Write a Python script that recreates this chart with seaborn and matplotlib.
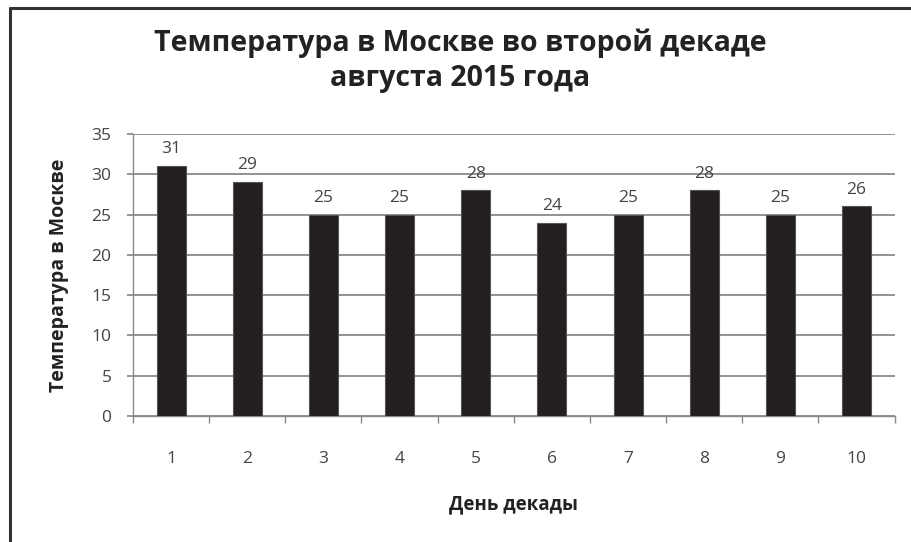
import matplotlib
matplotlib.use("Agg")
import matplotlib.pyplot as plt
import seaborn as sns
import pandas as pd
from matplotlib.lines import Line2D
from matplotlib.ticker import FixedLocator

days = ["1", "2", "3", "4", "5", "6", "7", "8", "9", "10"]
temps = [31, 29, 25, 25, 28, 24, 25, 28, 25, 26]
yticks = [0, 5, 10, 15, 20, 25, 30, 35]

title = "Температура в Москве во второй декаде\nавгуста 2015 года"
xlabel = "День декады"
ylabel = "Температура в Москве"

sns.set_theme(style="white")
plt.rcParams['font.family'] = ['Open Sans', 'DejaVu Sans']

df = pd.DataFrame({"day": days, "temp": temps})

fig = plt.figure(figsize=(9.11, 5.42), dpi=100)
ax = fig.add_axes([0.146, 0.2325, 0.836, 0.5203])

sns.barplot(data=df, x="day", y="temp", color="#231f20", width=0.38,
            ax=ax, saturation=1, edgecolor="#555555", linewidth=0.8, zorder=3)

ax.set_ylim(0, 35)
ax.set_xlim(-0.5, len(days) - 0.5)
ax.set_yticks(yticks)
ax.yaxis.grid(True, color="#8a8a8a", linewidth=1.3, zorder=0)
ax.xaxis.grid(False)

for s in ["top", "right"]:
    ax.spines[s].set_visible(False)
ax.spines["left"].set_color("#8a8a8a")
ax.spines["bottom"].set_color("#8a8a8a")
ax.spines["left"].set_linewidth(1.0)
ax.spines["bottom"].set_linewidth(1.0)

tfs = 12.5
ax.set_xticks(range(len(days)))
ax.set_xticklabels(days)
ax.tick_params(axis="x", which="major", length=0, pad=25, labelsize=tfs, labelcolor="#444444")
ax.xaxis.set_minor_locator(FixedLocator([i + 0.5 for i in range(-1, len(days))]))
ax.tick_params(axis="x", which="minor", length=5, color="#8a8a8a", direction="out", bottom=True)
ax.tick_params(axis="y", length=4.5, color="#8a8a8a", direction="out", left=True,
               labelsize=tfs, labelcolor="#444444", pad=11)

for i, v in enumerate(temps):
    ax.text(i, v + 1.1, str(v), ha="center", va="bottom", fontsize=tfs, color="#444444")

ax.set_xlabel(xlabel, fontsize=13.5, fontweight="bold", color="#222222", labelpad=20)
ax.set_ylabel(ylabel, fontsize=14, fontweight="bold", color="#222222", labelpad=16)
fig.suptitle(title, x=0.505, y=0.948, fontsize=20.5, fontweight="bold", color="#222222",
             linespacing=1.3, va="top")

fig.add_artist(Line2D([0.011, 0.011], [0.0, 0.985], transform=fig.transFigure,
                      color="#333333", linewidth=2.2))
fig.add_artist(Line2D([0.011, 1.0], [0.985, 0.985], transform=fig.transFigure,
                      color="#333333", linewidth=2.2))

fig.savefig("out.png", dpi=100)
